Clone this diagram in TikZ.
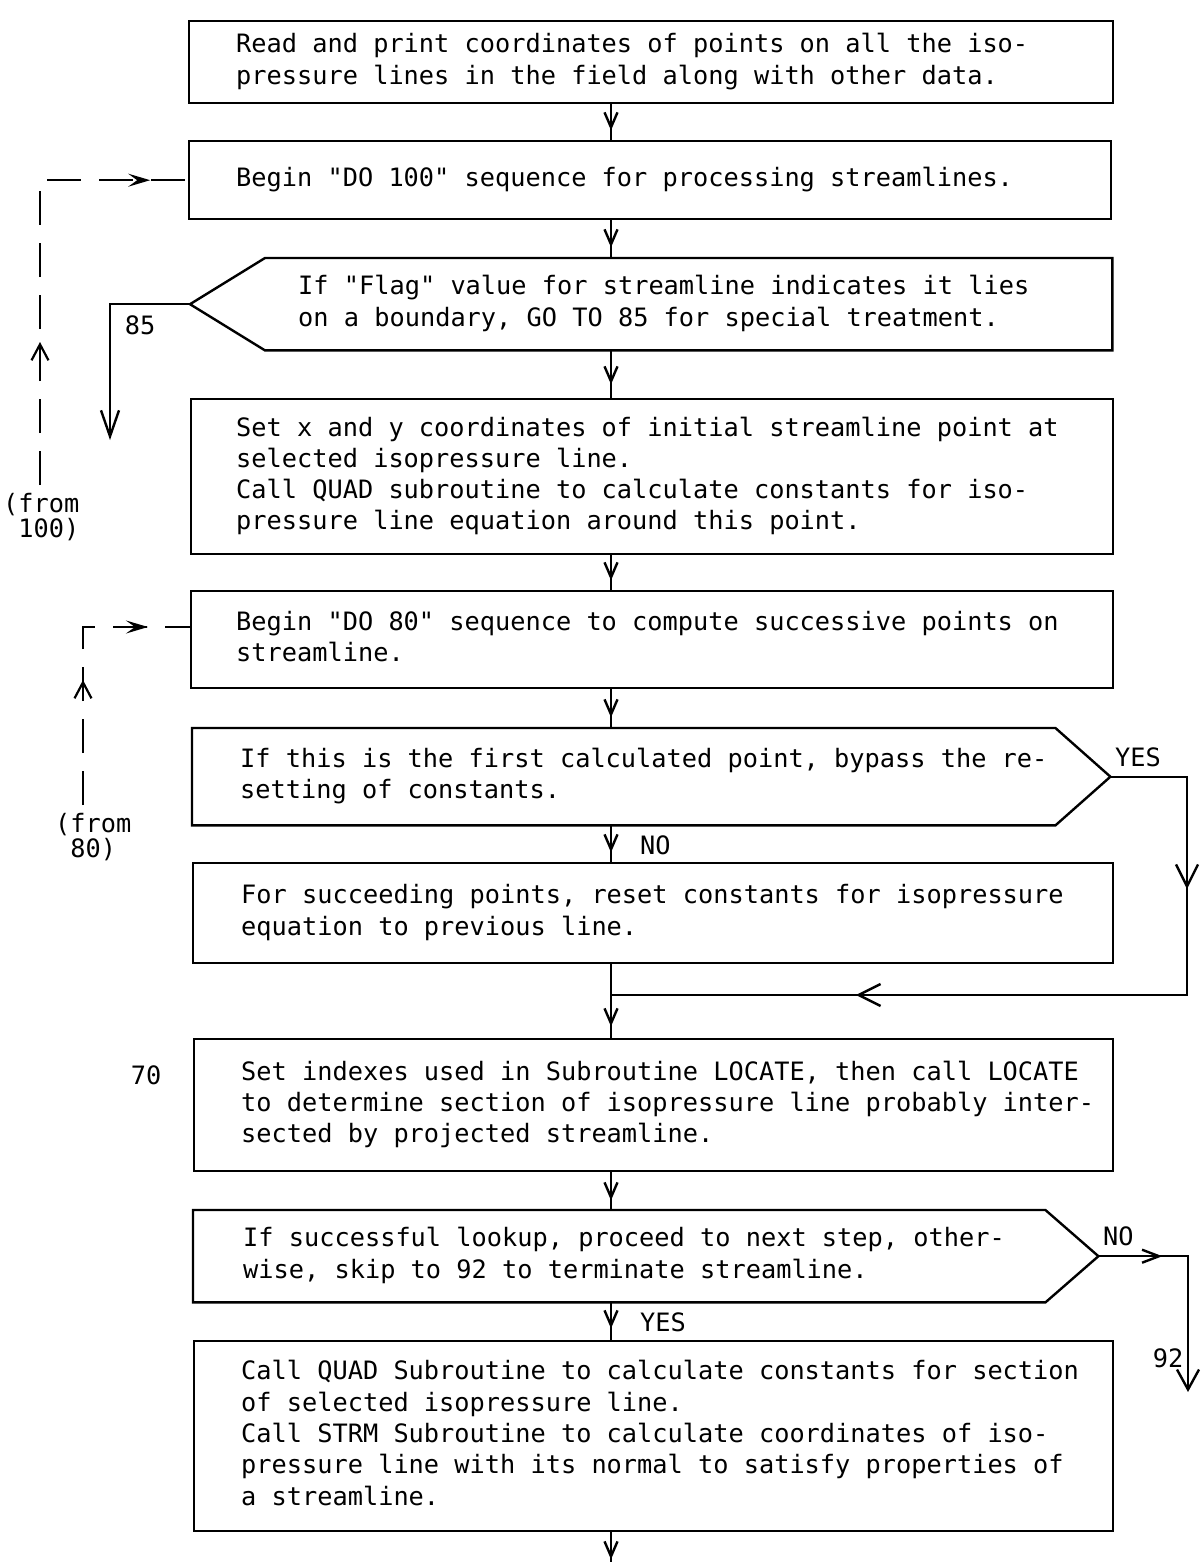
\documentclass[tikz,border=0pt]{standalone}
\usepackage{fontspec}
\newfontfamily\flowfont{DejaVu Sans Mono}
\usetikzlibrary{arrows.meta,decorations.markings,calc}

% left-aligned block of typed lines, set in a box of fixed width
\newcommand{\flowlines}[2]{\makebox[#1][l]{\begin{tabular}{@{}l@{}}#2\end{tabular}}}

\tikzset{
  sv/.tip={Straight Barb[length=15pt,width=13pt]},
  bv/.tip={Straight Barb[length=22pt,width=22pt]},
  rv/.tip={Straight Barb[length=17pt,width=13pt]},
  dv/.tip={Stealth[length=22pt,width=13pt,inset=9pt]},
  uv/.tip={Straight Barb[length=16pt,width=17pt]},
  txt/.style={font=\flowfont\fontsize{25.3}{31.3}\selectfont},
  stepbox/.style={txt, draw, line width=2.4pt, rectangle, anchor=north west, inner ysep=0pt},
  choice/.style={txt, rectangle, anchor=north west, inner ysep=0pt},
  outline/.style={line width=2.4pt, line join=miter},
  wire/.style={line width=2.4pt},
  midtip/.style={wire, postaction={decorate},
    decoration={markings, mark=at position #1 with {\arrow{sv}}}},
  lbl/.style={txt, inner sep=0pt},
  loopline/.style={line width=2.2pt, dash pattern=on 34pt off 18pt},
}

\begin{document}
\begin{tikzpicture}[x=1pt,y=-1pt]
\useasboundingbox (0,0) rectangle (1202,1562);

\coordinate (spine) at (611,0);

% ---- process boxes and decisions ----
\node[stepbox, inner xsep=47pt, minimum width=924pt, minimum height=82pt] (b1) at (188,20)
  {\flowlines{830pt}{Read and print coordinates of points on all the iso-\\pressure lines in the field along with other data.}};

\node[stepbox, inner xsep=47pt, minimum width=922pt, minimum height=78pt] (b2) at (188,140)
  {\flowlines{828pt}{Begin "DO 100" sequence for processing streamlines.}};

\node[choice, inner xsep=33pt, minimum width=847pt, minimum height=92pt] (d1) at (265,258)
  {\flowlines{781pt}{If "Flag" value for streamline indicates it lies\\on a boundary, GO TO 85 for special treatment.}};
\coordinate (d1tip) at ($(d1.west)+(-75,0)$);
\draw[outline] (d1tip) -- (d1.north west) -- (d1.north east) -- (d1.south east) -- (d1.south west) -- cycle;

\node[stepbox, inner xsep=45pt, minimum width=922pt, minimum height=155pt] (b3) at (190,398)
  {\flowlines{832pt}{Set x and y coordinates of initial streamline point at\\selected isopressure line.\\Call QUAD subroutine to calculate constants for iso-\\pressure line equation around this point.}};

\node[stepbox, inner xsep=45pt, minimum width=922pt, minimum height=97pt] (b4) at (190,590)
  {\flowlines{832pt}{Begin "DO 80" sequence to compute successive points on\\streamline.}};

\node[choice, inner xsep=48pt, minimum width=863pt, minimum height=97pt] (d2) at (192,728)
  {\flowlines{767pt}{If this is the first calculated point, bypass the re-\\setting of constants.}};
\coordinate (d2tip) at ($(d2.east)+(55,0)$);
\draw[outline] (d2tip) -- (d2.north east) -- (d2.north west) -- (d2.south west) -- (d2.south east) -- cycle;

\node[stepbox, inner xsep=48pt, minimum width=920pt, minimum height=100pt] (b5) at (192,862)
  {\flowlines{824pt}{For succeeding points, reset constants for isopressure\\equation to previous line.}};

\node[stepbox, inner xsep=47pt, minimum width=919pt, minimum height=132pt] (b6) at (193,1038)
  {\flowlines{825pt}{Set indexes used in Subroutine LOCATE, then call LOCATE\\to determine section of isopressure line probably inter-\\sected by projected streamline.}};

\node[choice, inner xsep=50pt, minimum width=852pt, minimum height=92pt] (d3) at (193,1210)
  {\flowlines{752pt}{If successful lookup, proceed to next step, other-\\wise, skip to 92 to terminate streamline.}};
\coordinate (d3tip) at ($(d3.east)+(53,0)$);
\draw[outline] (d3tip) -- (d3.north east) -- (d3.north west) -- (d3.south west) -- (d3.south east) -- cycle;

\node[stepbox, inner xsep=47pt, minimum width=919pt, minimum height=190pt] (b7) at (193,1340)
  {\flowlines{825pt}{Call QUAD Subroutine to calculate constants for section\\of selected isopressure line.\\Call STRM Subroutine to calculate coordinates of iso-\\pressure line with its normal to satisfy properties of\\a streamline.}};

% ---- main flow ----
\draw[midtip=26pt] (b1.south -| spine) -- (b2.north -| spine);
\draw[midtip=27pt] (b2.south -| spine) -- (d1.north -| spine);
\draw[midtip=34pt] (d1.south -| spine) -- (b3.north -| spine);
\draw[midtip=25pt] (b3.south -| spine) -- (b4.north -| spine);
\draw[midtip=28pt] (b4.south -| spine) -- (d2.north -| spine);
\draw[midtip=27pt] (d2.south -| spine) -- (b5.north -| spine);
\draw[midtip=62pt] (b5.south -| spine) -- (b6.north -| spine);
\draw[midtip=28pt] (b6.south -| spine) -- (d3.north -| spine);
\draw[midtip=26pt] (d3.south -| spine) -- (b7.north -| spine);
\coordinate (exit) at (611,1562);
\draw[midtip=27pt] (b7.south -| spine) -- (exit);

% ---- branch to 85 ----
\coordinate (to85) at (110,440);
\draw[wire, -{bv[length=26pt,width=18pt]}] (d1tip) -| (to85);
\node[lbl] (l85) at (140,325) {85};

% ---- YES bypass of the reset step ----
\coordinate (join) at (611,995);
\coordinate (rail) at (1187,995);
\draw[wire, postaction={decorate}, decoration={markings,
    mark=at position 189pt with {\arrow{bv}},
    mark=at position 626pt with {\arrow{bv}}}]
  (d2tip) -| (rail) -- (join);
\node[lbl, anchor=west] (yes1) at (1115,757) {YES};
\node[lbl, anchor=west] (no1) at (640,845) {NO};

% ---- NO exit to 92 ----
\coordinate (to92) at (1188,1392);
\draw[wire, -{bv[length=20pt,width=22pt]}, postaction={decorate},
  decoration={markings, mark=at position 64pt with {\arrow{rv}}}]
  (d3tip) -| (to92);
\node[lbl, anchor=west] (no2) at (1103,1236) {NO};
\node[lbl, anchor=west] (yes2) at (640,1322) {YES};
\node[lbl] (l92) at (1168,1358) {92};
\node[lbl] (l70) at (146,1075) {70};

% ---- loop returns ----
\coordinate (f100) at (40,485);
\draw[loopline, postaction={decorate}, decoration={markings,
    mark=at position 143pt with {\arrow{uv}},
    mark=at position 415pt with {\arrow{dv}}}]
  (f100) -- (f100 |- b2.west) -- (b2.west);
\node[lbl, align=left, anchor=north west, font=\flowfont\fontsize{25.3}{25}\selectfont] (from100) at (3,493)
  {(from\\\hphantom{(}100)};

\coordinate (f80) at (83,805);
\coordinate (in80) at ($(b4.north west)+(0,37)$);
\draw[loopline, postaction={decorate}, decoration={markings,
    mark=at position 125pt with {\arrow{uv}},
    mark=at position 243pt with {\arrow{dv}}}]
  (f80) -- (f80 |- in80) -- (in80);
\node[lbl, align=left, anchor=north west, font=\flowfont\fontsize{25.3}{25}\selectfont] (from80) at (55,813)
  {(from\\\hphantom{(}80)};
\end{tikzpicture}
\end{document}
